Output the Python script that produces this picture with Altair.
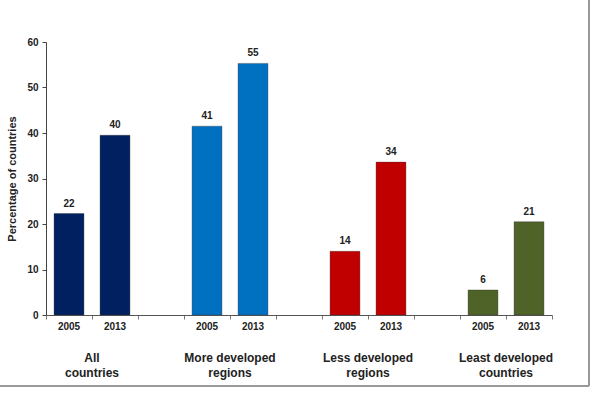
import altair as alt
import pandas as pd

groups = ["All", "More", "Less", "Least"]
group_line1 = ["All", "More developed", "Less developed", "Least developed"]
group_line2 = ["countries", "regions", "regions", "countries"]
years = ["2005", "2013"]
values_2005 = [22.3, 41.5, 14.0, 5.5]
values_2013 = [39.5, 55.3, 33.6, 20.5]
labels_2005 = ["22", "41", "14", "6"]
labels_2013 = ["40", "55", "34", "21"]
colors = ["#002060", "#0070C0", "#C00000", "#4F6228"]

FONT = "Liberation Sans"
N_SLOTS = 11  # two bars per group plus one empty slot between groups

rows = []
for i, (g, v5, v13, l5, l13) in enumerate(zip(groups, values_2005, values_2013, labels_2005, labels_2013)):
    rows.append({"pos": 3 * i, "group": g, "year": years[0], "value": v5, "label": l5})
    rows.append({"pos": 3 * i + 1, "group": g, "year": years[1], "value": v13, "label": l13})
df = pd.DataFrame(rows)

gdf = pd.DataFrame({
    "gpos": [3 * i + 1 for i in range(len(groups))],
    "line1": group_line1,
    "line2": group_line2,
})

xscale = alt.Scale(domain=[0, N_SLOTS], nice=False, zero=False)
yscale = alt.Scale(domain=[0, 60], nice=False)
xaxis = alt.Axis(
    title=None,
    labels=False,
    tickCount=N_SLOTS,
    tickSize=4,
    grid=False,
    domainColor="#555",
    tickColor="#777",
)
yaxis = alt.Axis(
    title="Percentage of countries",
    titleFont=FONT,
    titleFontWeight="bold",
    titleFontSize=11,
    titleColor="#222",
    titlePadding=9,
    labelFont=FONT,
    labelFontWeight="bold",
    labelFontSize=10,
    labelColor="#222",
    grid=False,
    tickSize=4,
    labelPadding=4,
    domainColor="#444",
    tickColor="#444",
)

base = alt.Chart(df).transform_calculate(
    x0="datum.pos + 0.175", x1="datum.pos + 0.825", xc="datum.pos + 0.5", base0="0"
)
bars = base.mark_bar(stroke="#333333", strokeWidth=0.6, strokeOpacity=0.6).encode(
    x=alt.X("x0:Q", scale=xscale, axis=xaxis),
    x2="x1:Q",
    y=alt.Y("value:Q", scale=yscale, axis=yaxis),
    y2="base0:Q",
    color=alt.Color("group:N", scale=alt.Scale(domain=groups, range=colors), legend=None),
)
vals = base.mark_text(baseline="bottom", dy=-5, font=FONT, fontWeight="bold", fontSize=10, color="#222").encode(
    x="xc:Q",
    y="value:Q",
    text="label:N",
)
yrs = base.mark_text(baseline="middle", font=FONT, fontWeight="bold", fontSize=10, color="#222").encode(
    x="xc:Q",
    y=alt.value(285),
    text="year:N",
)
g1 = alt.Chart(gdf).mark_text(
    baseline="middle", font=FONT, fontWeight="bold", fontSize=12, color="#222"
).encode(
    x="gpos:Q",
    y=alt.value(316),
    text="line1:N",
)
g2 = alt.Chart(gdf).mark_text(
    baseline="middle", font=FONT, fontWeight="bold", fontSize=12, color="#222"
).encode(
    x="gpos:Q",
    y=alt.value(331),
    text="line2:N",
)
frame_r = alt.Chart(gdf).mark_rule(color="#999999", strokeWidth=2).encode(
    x=alt.value(543), y=alt.value(-42), y2=alt.value(344)
)
frame_b = alt.Chart(gdf).mark_rule(color="#999999", strokeWidth=2).encode(
    x=alt.value(-46), x2=alt.value(543), y=alt.value(344)
)

chart = alt.layer(bars, vals, yrs, g1, g2, frame_r, frame_b).properties(
    width=506,
    height=273,
    autosize="none",
    padding={"left": 46, "top": 42, "right": 42, "bottom": 78},
    background="white",
).configure_view(strokeWidth=0)

chart.save("out.html", embed_options={"renderer": "svg", "actions": False})
